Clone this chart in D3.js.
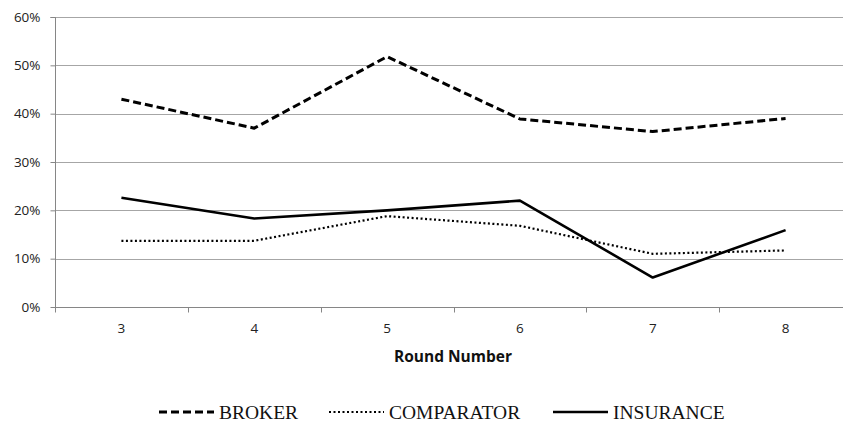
<!DOCTYPE html>
<html>
<head>
<meta charset="utf-8">
<script src="https://cdn.jsdelivr.net/npm/d3@7"></script>
<style>
  body { margin: 0; background: #fff; }
  svg { display: block; }
</style>
</head>
<body>
<div id="chart"></div>
<script>
// chart values
var rounds = ["3", "4", "5", "6", "7", "8"];
var broker = [0.43, 0.37, 0.518, 0.389, 0.363, 0.39];
var comparator = [0.137, 0.137, 0.188, 0.168, 0.11, 0.117];
var insurance = [0.226, 0.183, 0.20, 0.22, 0.061, 0.159];
var yTicks = [0, 0.1, 0.2, 0.3, 0.4, 0.5, 0.6];

var width = 843, height = 423;
var margin = {left: 55, top: 17, right: -9, bottom: 116};
var sans = "'Open Sans', 'Liberation Sans', sans-serif";

var svg = d3.select("#chart").append("svg")
    .attr("width", width)
    .attr("height", height);

var xScale = d3.scaleBand().domain(rounds)
    .range([margin.left, width - margin.right]);
var yScale = d3.scaleLinear().domain([0, 0.6])
    .range([height - margin.bottom, margin.top]);

// gridlines
svg.append("g").selectAll("line")
    .data(yTicks.slice(1))
    .enter().append("line")
    .attr("x1", margin.left).attr("x2", width - margin.right)
    .attr("y1", function (d) { return Math.round(yScale(d)) + 0.5; })
    .attr("y2", function (d) { return Math.round(yScale(d)) + 0.5; })
    .attr("stroke", "#a6a6a6")
    .attr("stroke-width", 1);

// y axis
var yAxis = svg.append("g")
    .attr("transform", "translate(" + (margin.left + 0.5) + ",0)")
    .call(d3.axisLeft(yScale).tickValues(yTicks).tickFormat(d3.format(".0%")).tickSize(5).tickPadding(10));

// x axis
var xAxis = svg.append("g")
    .attr("transform", "translate(0," + (Math.round(yScale(0)) + 0.5) + ")")
    .call(d3.axisBottom(xScale).tickSize(0).tickPadding(16));

// band boundary ticks
xAxis.selectAll(".bound")
    .data(d3.range(rounds.length + 1))
    .enter().append("line")
    .attr("class", "bound")
    .attr("x1", function (i) { return Math.round(margin.left + i * xScale.step()) + 0.5; })
    .attr("x2", function (i) { return Math.round(margin.left + i * xScale.step()) + 0.5; })
    .attr("y1", 0).attr("y2", 5)
    .attr("stroke", "#868686");

[yAxis, xAxis].forEach(function (g) {
    g.select(".domain").attr("stroke", "#868686");
    g.selectAll(".tick line").attr("stroke", "#868686");
    g.selectAll("text")
        .style("font-family", sans)
        .style("font-size", "13.5px")
        .attr("fill", "#222");
});
yAxis.select(".domain").attr("d", "M-5," + (Math.round(yScale(0.6)) + 0.5) + "H0V" + (Math.round(yScale(0)) + 0.5));
xAxis.select(".domain").attr("d", "M" + margin.left + ",0H" + (width - margin.right));

svg.append("text")
    .attr("x", 453).attr("y", 362)
    .attr("text-anchor", "middle")
    .style("font-family", sans)
    .style("font-size", "15.5px")
    .style("font-weight", "bold")
    .attr("fill", "#111")
    .text("Round Number");

var series = [
    {name: "BROKER", values: broker, dash: "8,4", width: 3},
    {name: "COMPARATOR", values: comparator, dash: "2,2.5", width: 2.2},
    {name: "INSURANCE", values: insurance, dash: null, width: 2.6}
];

var line = d3.line()
    .x(function (d, i) { return xScale(rounds[i]) + xScale.bandwidth() / 2; })
    .y(function (d) { return yScale(d); });

svg.append("g").selectAll("path")
    .data(series)
    .enter().append("path")
    .attr("d", function (s) { return line(s.values); })
    .attr("fill", "none")
    .attr("stroke", "#000")
    .attr("stroke-width", function (s) { return s.width; })
    .attr("stroke-dasharray", function (s) { return s.dash; })
    .attr("stroke-linejoin", "round");

// legend
var legendX = [159, 329, 553];
var legend = svg.append("g").selectAll("g")
    .data(series)
    .enter().append("g")
    .attr("transform", function (s, i) { return "translate(" + legendX[i] + ",412)"; });

legend.append("line")
    .attr("x1", 0).attr("x2", 55)
    .attr("y1", 0).attr("y2", 0)
    .attr("stroke", "#000")
    .attr("stroke-width", function (s) { return s.width; })
    .attr("stroke-dasharray", function (s) { return s.dash; });

legend.append("text")
    .attr("x", 60).attr("y", 7)
    .style("font-family", "'Liberation Serif', 'DejaVu Serif', serif")
    .style("font-size", "19.5px")
    .attr("fill", "#111")
    .text(function (s) { return s.name; });
</script>
</body>
</html>
